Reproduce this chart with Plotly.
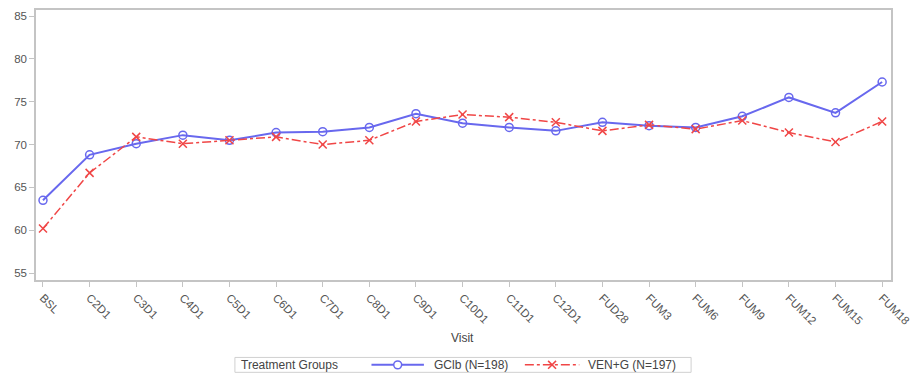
import plotly.graph_objects as go

visits = ["BSL", "C2D1", "C3D1", "C4D1", "C5D1", "C6D1", "C7D1", "C8D1", "C9D1",
          "C10D1", "C11D1", "C12D1", "FUD28", "FUM3", "FUM6", "FUM9", "FUM12",
          "FUM15", "FUM18"]
gclb = [63.5, 68.8, 70.1, 71.1, 70.5, 71.4, 71.5, 72.0, 73.6,
        72.5, 72.0, 71.6, 72.6, 72.2, 72.0, 73.3, 75.5, 73.7, 77.3]
veng = [60.2, 66.7, 70.9, 70.1, 70.5, 70.9, 70.0, 70.5, 72.7,
        73.5, 73.2, 72.6, 71.6, 72.3, 71.8, 72.8, 71.4, 70.3, 72.7]
y_ticks = [55, 60, 65, 70, 75, 80, 85]
group_names = ["GClb (N=198)", "VEN+G (N=197)"]
legend_title = "Treatment Groups"

FONT = "Liberation Sans, Arial, sans-serif"
GREY_TXT = "#555555"
DARK_TXT = "#444444"
AXIS_GREY = "#c4c4c4"
BLUE = "#6868ee"
RED = "#f04646"

W, H = 920, 376
ML, MR, MT, MB = 36, 20, 8, 96
PW, PH = W - ML - MR, H - MT - MB


def px(x):
    """Horizontal pixel position -> paper fraction."""
    return (x - ML) / PW


def py(y):
    """Vertical pixel position (from top) -> paper fraction."""
    return (H - MB - y) / PH


fig = go.Figure()
fig.add_trace(go.Scatter(
    x=visits, y=gclb, name=group_names[0], mode="lines+markers",
    line=dict(color=BLUE, width=2),
    marker=dict(symbol="circle-open", size=8, color=BLUE, line=dict(width=1.5)),
))
fig.add_trace(go.Scatter(
    x=visits, y=veng, name=group_names[1], mode="lines+markers",
    line=dict(color=RED, width=1.5, dash="dashdot"),
    marker=dict(symbol="x-thin-open", size=8, color=RED, line=dict(width=1.5, color=RED)),
))

# Bordered horizontal key below the axis
ly = 365.5
shapes = [
    dict(type="rect", xref="paper", yref="paper",
         x0=px(237), x1=px(698), y0=py(358), y1=py(373),
         line=dict(color="#d0d0d0", width=1), fillcolor="rgba(0,0,0,0)"),
    dict(type="line", xref="paper", yref="paper",
         x0=px(375), x1=px(428), y0=py(ly), y1=py(ly),
         line=dict(color=BLUE, width=2)),
    dict(type="circle", xref="paper", yref="paper",
         x0=px(397.5), x1=px(405.5), y0=py(ly - 4), y1=py(ly + 4),
         line=dict(color=BLUE, width=1.5), fillcolor="white"),
    dict(type="line", xref="paper", yref="paper",
         x0=px(530), x1=px(585), y0=py(ly), y1=py(ly),
         line=dict(color=RED, width=1.5, dash="dashdot")),
    dict(type="line", xref="paper", yref="paper",
         x0=px(553.5), x1=px(561.5), y0=py(ly - 4), y1=py(ly + 4),
         line=dict(color=RED, width=1.5)),
    dict(type="line", xref="paper", yref="paper",
         x0=px(553.5), x1=px(561.5), y0=py(ly + 4), y1=py(ly - 4),
         line=dict(color=RED, width=1.5)),
]

annotations = [
    dict(text="Visit", xref="paper", yref="paper",
         x=px(467), y=py(338), xanchor="center", yanchor="middle",
         showarrow=False, font=dict(size=12, color=DARK_TXT)),
    dict(text=legend_title, xref="paper", yref="paper",
         x=px(241), y=py(ly), xanchor="left", yanchor="middle",
         showarrow=False, font=dict(size=12, color=DARK_TXT)),
    dict(text=group_names[0], xref="paper", yref="paper",
         x=px(436), y=py(ly), xanchor="left", yanchor="middle",
         showarrow=False, font=dict(size=12, color=DARK_TXT)),
    dict(text=group_names[1], xref="paper", yref="paper",
         x=px(592), y=py(ly), xanchor="left", yanchor="middle",
         showarrow=False, font=dict(size=12, color=DARK_TXT)),
]

fig.update_layout(
    width=W, height=H,
    margin=dict(l=ML, r=MR, t=MT, b=MB),
    paper_bgcolor="white", plot_bgcolor="white",
    font=dict(family=FONT, size=12, color=GREY_TXT),
    showlegend=False,
    xaxis=dict(
        type="category",
        categoryorder="array", categoryarray=visits,
        range=[-0.15, 18.19],
        tickangle=45,
        ticks="outside", ticklen=5, tickcolor=AXIS_GREY,
        showline=True, linecolor=AXIS_GREY, linewidth=1.5, mirror=True,
        showgrid=False, zeroline=False,
        tickfont=dict(size=11.5, color=GREY_TXT),
    ),
    yaxis=dict(
        range=[54.2, 85.7],
        tickvals=y_ticks,
        ticks="outside", ticklen=5, tickcolor=AXIS_GREY,
        showline=True, linecolor=AXIS_GREY, linewidth=1.5, mirror=True,
        showgrid=False, zeroline=False,
        tickfont=dict(size=11.5, color=GREY_TXT),
    ),
    shapes=shapes,
    annotations=annotations,
)

fig.write_html("out.html")
